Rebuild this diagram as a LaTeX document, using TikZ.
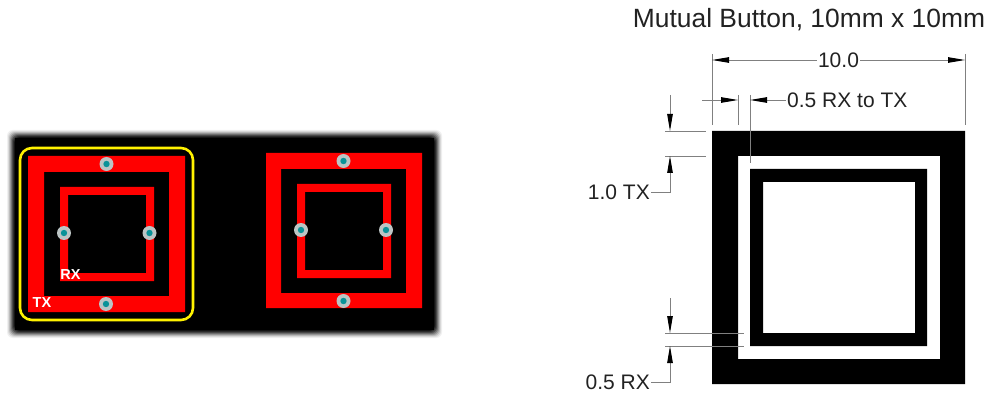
\documentclass[tikz,border=0pt]{standalone}
\usepackage{fontspec}
\setmainfont{Liberation Sans}
\usetikzlibrary{arrows.meta}
\definecolor{tealvia}{HTML}{0A9298}
\definecolor{viagray}{HTML}{BCC4C4}
\definecolor{dimgray}{HTML}{808080}
\definecolor{inkgray}{HTML}{222222}
\tikzset{
  x=1pt,y=-1pt,
  dimline/.style={draw=dimgray,line width=0.9pt},
  dimarrow/.style={dimline,-{Triangle[length=17pt,width=5.5pt,color=black]}},
  dimtext/.style={text=inkgray,inner sep=0pt,font=\fontsize{21}{24}\selectfont},
  pcbtext/.style={text=white,inner sep=0pt,font=\fontsize{14.5}{16}\selectfont\bfseries},
  ring/.style={fill=red,even odd rule},
  bwring/.style={fill=black,even odd rule}
}
\newcommand{\via}[2]{%
  \fill[viagray] (#1,#2) circle[radius=7];
  \fill[tealvia] (#1,#2) circle[radius=3.2];}
\begin{document}
\begin{tikzpicture}
\useasboundingbox (0,0) rectangle (989,393);
\fill[white] (0,0) rectangle (989,393);
% blurred board edge
\foreach \d/\k in {8/6,7/14,6/26,5/40,4/55,3/70,2/82,1/92}{
  \fill[black!\k!white,rounded corners=6] (15-\d,138-\d) rectangle (434+\d,330+\d);}
\fill[black] (15,138) rectangle (434,330);
% left button
\draw[yellow,line width=2.6pt,rounded corners=12] (20,148) rectangle (193,320);
\path[ring] (28,156) rectangle (185,312) (44,172) rectangle (169,296);
\path[ring] (60,187) rectangle (154,281) (68,195) rectangle (146,273);
\via{106.5}{164}\via{106}{304}\via{64}{233}\via{149.5}{233}
\node[pcbtext] (rxlabel) at (70.5,275) {RX};
\node[pcbtext] (txlabel) at (42,303) {TX};
% right button
\path[ring] (266,153) rectangle (422,308) (281,169) rectangle (406,293);
\path[ring] (297,184) rectangle (391,278) (305,192) rectangle (383,270);
\via{343.5}{161}\via{343.5}{301}\via{301}{230}\via{386}{230}
% mutual button drawing
\node[text=inkgray,inner sep=0pt,font=\fontsize{26.4}{30}\selectfont] (title) at (809,20) {Mutual Button, 10mm x 10mm};
\path[bwring] (712,131) rectangle (965,384) (738,156) rectangle (940,359);
\path[bwring] (750,169) rectangle (927,346) (763,182) rectangle (915,333);
% named dimension points
\coordinate (wl) at (712,60); \coordinate (wr) at (965,60);
\coordinate (wlt) at (712,54); \coordinate (wlb) at (712,125);
\coordinate (wrt) at (965,54); \coordinate (wrb) at (965,125);
\coordinate (gapa) at (738,100); \coordinate (gapb) at (750,100);
\coordinate (gapstart) at (702,100);
\coordinate (gapat) at (738,95); \coordinate (gapab) at (738,125);
\coordinate (gapbt) at (750,95); \coordinate (gapbb) at (750,163);
\coordinate (ta) at (665,131); \coordinate (tae) at (706,131);
\coordinate (tb) at (665,156); \coordinate (tbe) at (706,156);
\coordinate (tas) at (670,95); \coordinate (tat) at (670,131);
\coordinate (tbs) at (670,192); \coordinate (tbt) at (670,156);
\coordinate (ra) at (665,333); \coordinate (rae) at (744,333);
\coordinate (rb) at (665,346); \coordinate (rbe) at (744,346);
\coordinate (ras) at (670,298); \coordinate (rat) at (670,333);
\coordinate (rbs) at (670,382); \coordinate (rbt) at (670,346);
% dimension texts
\node[dimtext] (ten) at (838.5,60) {10.0};
\node[dimtext,anchor=west] (gaplabel) at (787,100) {0.5 RX to TX};
\node[dimtext,anchor=east] (txdim) at (650,192) {1.0 TX};
\node[dimtext,anchor=east] (rxdim) at (650,382) {0.5 RX};
% extension lines
\draw[dimline] (wlt) -- (wlb);
\draw[dimline] (wrt) -- (wrb);
\draw[dimline] (gapat) -- (gapab);
\draw[dimline] (gapbt) -- (gapbb);
\draw[dimline] (ta) -- (tae);
\draw[dimline] (tb) -- (tbe);
\draw[dimline] (ra) -- (rae);
\draw[dimline] (rb) -- (rbe);
% dimension arrows
\draw[dimarrow] (ten.west) ++(-1,0) -- (wl);
\draw[dimarrow] (ten.east) ++(1,0) -- (wr);
\draw[dimarrow] (gapstart) -- (gapa);
\draw[dimarrow] (gaplabel.west) ++(-1,0) -- (gapb);
\draw[dimarrow] (tas) -- (tat);
\draw[dimarrow] (txdim.east) ++(1,0) -- (tbs) -- (tbt);
\draw[dimarrow] (ras) -- (rat);
\draw[dimarrow] (rxdim.east) ++(1,0) -- (rbs) -- (rbt);
\end{tikzpicture}
\end{document}
